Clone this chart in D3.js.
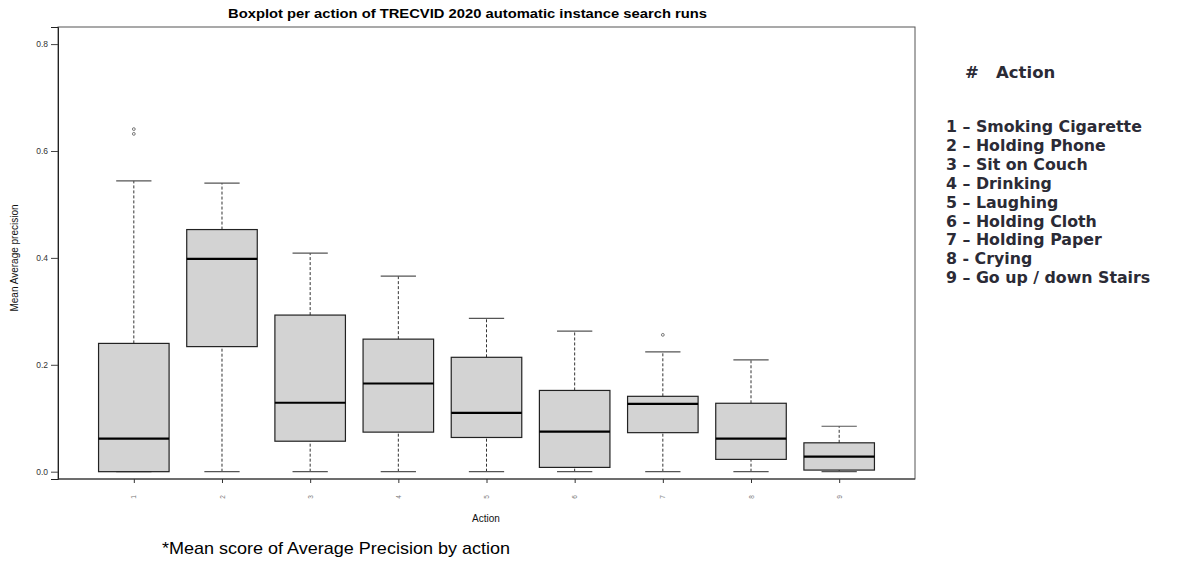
<!DOCTYPE html>
<html lang="en">
<head>
  <meta charset="UTF-8">
  <title>Boxplot per action</title>
  <style>
    body { margin: 0; background: #fff; }
    svg { display: block; }
  </style>
  <script src="https://d3js.org/d3.v7.min.js"></script>
</head>
<body>
  <div id="chart"></div>
  <script>
    const actions = ["1", "2", "3", "4", "5", "6", "7", "8", "9"];
    const whiskerLow = [0, 0, 0, 0, 0, 0, 0, 0, 0];
    const q1 = [0.000, 0.234, 0.057, 0.074, 0.064, 0.008, 0.073, 0.023, 0.003];
    const median = [0.062, 0.398, 0.129, 0.165, 0.110, 0.075, 0.127, 0.062, 0.028];
    const q3 = [0.240, 0.453, 0.293, 0.248, 0.214, 0.152, 0.141, 0.128, 0.054];
    const whiskerHigh = [0.544, 0.540, 0.409, 0.366, 0.287, 0.263, 0.224, 0.209, 0.085];
    const outliers = [[0.641, 0.632], [], [], [], [], [], [0.256], [], []];
    const yTicks = [0, 0.2, 0.4, 0.6, 0.8];
    const legendItems = [
      "1 \u2013 Smoking Cigarette",
      "2 \u2013 Holding Phone",
      "3 \u2013 Sit on Couch",
      "4 \u2013 Drinking",
      "5 \u2013 Laughing",
      "6 \u2013 Holding Cloth",
      "7 \u2013 Holding Paper",
      "8 - Crying",
      "9 \u2013 Go up / down Stairs"
    ];

    const width = 1181, height = 563;
    const plot = { left: 58, right: 915, top: 27, bottom: 479 };

    const svg = d3.select("#chart").append("svg")
      .attr("width", width)
      .attr("height", height);

    // R style: 0.5..9.5 extended by 4%
    const x = d3.scaleLinear().domain([0.14, 9.86]).range([plot.left, plot.right]);
    const y = d3.scaleLinear().domain([-0.0137, 0.832]).range([plot.bottom, plot.top]);
    const boxW = x(0.8) - x(0);

    const boxes = actions.map((a, i) => ({
      a, pos: i + 1,
      lo: whiskerLow[i], q1: q1[i], med: median[i], q3: q3[i], hi: whiskerHigh[i],
      out: outliers[i]
    }));

    // frame
    svg.append("rect")
      .attr("x", plot.left).attr("y", plot.top)
      .attr("width", plot.right - plot.left).attr("height", plot.bottom - plot.top)
      .attr("fill", "none").attr("stroke", "#555").attr("stroke-width", 1);

    // y axis
    const yAxis = svg.append("g")
      .attr("transform", `translate(${plot.left},0)`)
      .call(d3.axisLeft(y).tickValues(yTicks).tickFormat(d3.format(".1f")).tickSize(7).tickPadding(3));
    yAxis.select(".domain").attr("stroke", "#222");
    yAxis.selectAll(".tick line").attr("stroke", "#444");
    yAxis.selectAll(".tick text")
      .attr("font-family", "Liberation Sans, Arial, sans-serif")
      .attr("font-size", 8.5).attr("fill", "#333");

    // x axis
    const xAxis = svg.append("g")
      .attr("transform", `translate(0,${plot.bottom})`)
      .call(d3.axisBottom(x).tickValues(boxes.map(d => d.pos)).tickFormat((d, i) => actions[i]).tickSize(4).tickSizeOuter(0));
    xAxis.select(".domain").attr("stroke", "#333").attr("d", `M${plot.left},0H${plot.right}`);
    xAxis.selectAll(".tick line").attr("stroke", "#333");
    xAxis.selectAll(".tick text")
      .attr("font-family", "Liberation Sans, Arial, sans-serif")
      .attr("font-size", 6.5).attr("fill", "#777")
      .attr("transform", "translate(0,18) rotate(-90)")
      .attr("y", 0).attr("dy", "0.32em").attr("text-anchor", "middle");

    const g = svg.append("g");
    const box = g.selectAll("g.box").data(boxes).join("g").attr("class", "box");

    // whiskers
    box.append("line")
      .attr("x1", d => x(d.pos)).attr("x2", d => x(d.pos))
      .attr("y1", d => y(d.q3)).attr("y2", d => y(d.hi))
      .attr("stroke", "#333").attr("stroke-dasharray", "3,2").attr("stroke-width", 1);
    box.append("line")
      .attr("x1", d => x(d.pos)).attr("x2", d => x(d.pos))
      .attr("y1", d => y(d.lo)).attr("y2", d => y(d.q1))
      .attr("stroke", "#333").attr("stroke-dasharray", "3,2").attr("stroke-width", 1);

    // caps
    box.selectAll("line.cap").data(d => [d.lo, d.hi].map(v => ({ v, pos: d.pos }))).join("line")
      .attr("class", "cap")
      .attr("x1", d => x(d.pos) - boxW / 4).attr("x2", d => x(d.pos) + boxW / 4)
      .attr("y1", d => y(d.v)).attr("y2", d => y(d.v))
      .attr("stroke", "#555").attr("stroke-width", 1.2);

    // box
    box.append("rect")
      .attr("x", d => x(d.pos) - boxW / 2)
      .attr("width", boxW)
      .attr("y", d => y(d.q3))
      .attr("height", d => Math.max(1, y(d.q1) - y(d.q3)))
      .attr("fill", "#d3d3d3").attr("stroke", "#222").attr("stroke-width", 1.2);

    // median
    box.append("line")
      .attr("x1", d => x(d.pos) - boxW / 2).attr("x2", d => x(d.pos) + boxW / 2)
      .attr("y1", d => y(d.med)).attr("y2", d => y(d.med))
      .attr("stroke", "#000").attr("stroke-width", 2.2);

    // outliers
    box.selectAll("circle").data(d => d.out.map(v => ({ v, pos: d.pos }))).join("circle")
      .attr("cx", d => x(d.pos)).attr("cy", d => y(d.v))
      .attr("r", 1.4).attr("fill", "none").attr("stroke", "#555").attr("stroke-width", 0.8);

    // title and labels
    svg.append("text")
      .attr("x", 228).attr("y", 18)
      .attr("textLength", 479).attr("lengthAdjust", "spacingAndGlyphs")
      .attr("font-family", "Liberation Sans, Arial, sans-serif")
      .attr("font-weight", "bold").attr("font-size", 12.5).attr("fill", "#000")
      .text("Boxplot per action of TRECVID 2020 automatic instance search runs");

    svg.append("text")
      .attr("transform", `translate(18,${(plot.top + plot.bottom) / 2 + 5}) rotate(-90)`)
      .attr("text-anchor", "middle")
      .attr("font-family", "Liberation Sans, Arial, sans-serif")
      .attr("font-size", 10).attr("fill", "#111")
      .text("Mean Average precision");

    svg.append("text")
      .attr("x", 486).attr("y", 522)
      .attr("text-anchor", "middle")
      .attr("font-family", "Liberation Sans, Arial, sans-serif")
      .attr("font-size", 10).attr("fill", "#111")
      .text("Action");

    svg.append("text")
      .attr("x", 162).attr("y", 554)
      .attr("textLength", 348).attr("lengthAdjust", "spacingAndGlyphs")
      .attr("font-family", "Liberation Sans, Arial, sans-serif")
      .attr("font-size", 17).attr("fill", "#000")
      .text("*Mean score of Average Precision by action");

    // legend
    const legend = svg.append("g")
      .attr("font-family", "DejaVu Sans, Verdana, sans-serif")
      .attr("font-weight", "bold").attr("fill", "#2b2b36");
    legend.append("text")
      .attr("x", 965).attr("y", 78)
      .attr("font-size", 16.5)
      .attr("xml:space", "preserve")
      .text("#   Action");
    legend.selectAll("text.item").data(legendItems).join("text")
      .attr("class", "item")
      .attr("x", 946)
      .attr("y", (d, i) => 132 + i * 18.9)
      .attr("font-size", 15.8)
      .text(d => d);
  </script>
</body>
</html>
